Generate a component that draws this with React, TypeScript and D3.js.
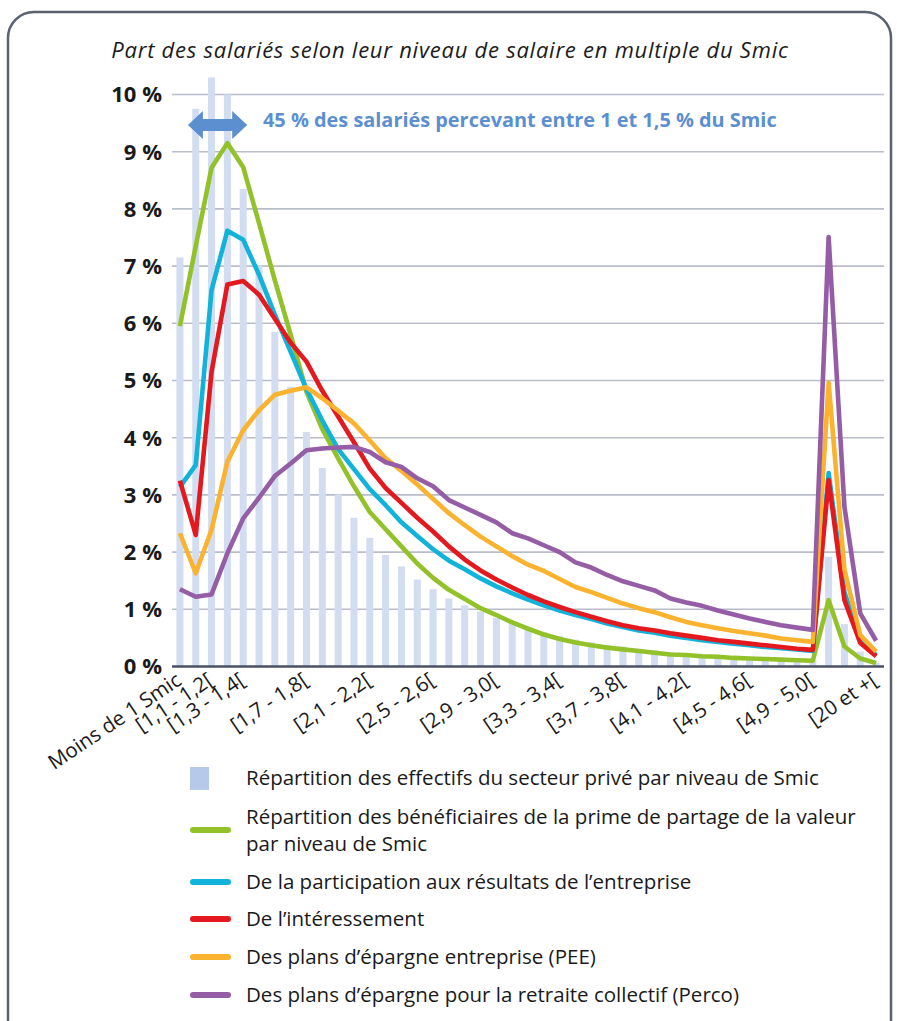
import React from "react";
import * as d3 from "d3";

const categories = [
  "Moins de 1 Smic", "[1,0 - 1,1[", "[1,1 - 1,2[", "[1,2 - 1,3[", "[1,3 - 1,4[",
  "[1,4 - 1,5[", "[1,5 - 1,6[", "[1,6 - 1,7[", "[1,7 - 1,8[", "[1,8 - 1,9[",
  "[1,9 - 2,0[", "[2,0 - 2,1[", "[2,1 - 2,2[", "[2,2 - 2,3[", "[2,3 - 2,4[",
  "[2,4 - 2,5[", "[2,5 - 2,6[", "[2,6 - 2,7[", "[2,7 - 2,8[", "[2,8 - 2,9[",
  "[2,9 - 3,0[", "[3,0 - 3,1[", "[3,1 - 3,2[", "[3,2 - 3,3[", "[3,3 - 3,4[",
  "[3,4 - 3,5[", "[3,5 - 3,6[", "[3,6 - 3,7[", "[3,7 - 3,8[", "[3,8 - 3,9[",
  "[3,9 - 4,0[", "[4,0 - 4,1[", "[4,1 - 4,2[", "[4,2 - 4,3[", "[4,3 - 4,4[",
  "[4,4 - 4,5[", "[4,5 - 4,6[", "[4,6 - 4,7[", "[4,7 - 4,8[", "[4,8 - 4,9[",
  "[4,9 - 5,0[", "[5 - 10[", "[10 - 15[", "[15 - 20[", "[20 et +["
];

const shownLabels = [
  "Moins de 1 Smic", "[1,1 - 1,2[", "[1,3 - 1,4[", "[1,7 - 1,8[", "[2,1 - 2,2[",
  "[2,5 - 2,6[", "[2,9 - 3,0[", "[3,3 - 3,4[", "[3,7 - 3,8[", "[4,1 - 4,2[",
  "[4,5 - 4,6[", "[4,9 - 5,0[", "[20 et +["
];

const yTicks = [0, 1, 2, 3, 4, 5, 6, 7, 8, 9, 10];

const effectifs = [
  7.15, 9.75, 10.3, 10.0, 8.35, 7.0, 5.85, 4.89, 4.1, 3.47,
  3.01, 2.6, 2.25, 1.95, 1.75, 1.52, 1.35, 1.19, 1.07, 0.96,
  0.85, 0.76, 0.68, 0.6, 0.53, 0.47, 0.42, 0.38, 0.35, 0.31,
  0.28, 0.25, 0.22, 0.2, 0.18, 0.17, 0.15, 0.14, 0.13, 0.12,
  0.11, 1.92, 0.74, 0.26, 0.06
];

const primePartage = [
  5.95, 7.35, 8.72, 9.15, 8.73, 7.75, 6.75, 5.8, 4.8, 4.15,
  3.64, 3.15, 2.7, 2.4, 2.1, 1.8, 1.55, 1.34, 1.18, 1.02,
  0.9, 0.77, 0.66, 0.56, 0.48, 0.42, 0.37, 0.33, 0.3, 0.27,
  0.24, 0.21, 0.2, 0.18, 0.17, 0.15, 0.14, 0.13, 0.12, 0.11,
  0.1, 1.16, 0.35, 0.14, 0.06
];

const participation = [
  3.14, 3.52, 6.58, 7.62, 7.46, 6.85, 6.15, 5.5, 4.85, 4.3,
  3.8, 3.45, 3.1, 2.82, 2.52, 2.28, 2.05, 1.85, 1.7, 1.54,
  1.4, 1.28, 1.17, 1.07, 0.98, 0.9, 0.83, 0.75, 0.69, 0.63,
  0.59, 0.54, 0.5, 0.46, 0.43, 0.4, 0.37, 0.34, 0.32, 0.3,
  0.27, 3.38, 1.3, 0.45, 0.2
];

const interessement = [
  3.25, 2.3, 5.15, 6.68, 6.74, 6.5, 6.08, 5.66, 5.33, 4.82,
  4.37, 3.92, 3.46, 3.12, 2.86, 2.6, 2.36, 2.1, 1.87, 1.68,
  1.52, 1.38, 1.25, 1.14, 1.04, 0.95, 0.87, 0.79, 0.72, 0.67,
  0.63, 0.58, 0.54, 0.5, 0.46, 0.43, 0.4, 0.37, 0.34, 0.31,
  0.29, 3.26, 1.16, 0.41, 0.18
];

const pee = [
  2.33, 1.63, 2.39, 3.58, 4.13, 4.48, 4.75, 4.82, 4.88, 4.69,
  4.47, 4.25, 3.95, 3.64, 3.42, 3.18, 2.93, 2.68, 2.47, 2.27,
  2.1, 1.93, 1.78, 1.67, 1.53, 1.39, 1.3, 1.2, 1.1, 1.02,
  0.95, 0.86, 0.78, 0.72, 0.67, 0.62, 0.58, 0.54, 0.49, 0.46,
  0.43, 4.96, 1.69, 0.55, 0.26
];

const perco = [
  1.35, 1.22, 1.26, 1.98, 2.59, 2.95, 3.33, 3.55, 3.78, 3.81,
  3.83, 3.84, 3.75, 3.57, 3.49, 3.29, 3.15, 2.91, 2.78, 2.65,
  2.52, 2.33, 2.24, 2.12, 2.0, 1.82, 1.73, 1.6, 1.49, 1.41,
  1.33, 1.19, 1.12, 1.06, 0.98, 0.91, 0.84, 0.78, 0.72, 0.68,
  0.64, 7.51, 2.79, 0.93, 0.45
];

const barLabel = "Répartition des effectifs du secteur privé par niveau de Smic";
const lineSeries = [
  { name: ["Répartition des bénéficiaires de la prime de partage de la valeur", "par niveau de Smic"], values: primePartage, color: "#93c12a" },
  { name: ["De la participation aux résultats de l’entreprise"], values: participation, color: "#12b3da" },
  { name: ["De l’intéressement"], values: interessement, color: "#e3191f" },
  { name: ["Des plans d’épargne entreprise (PEE)"], values: pee, color: "#fbb22f" },
  { name: ["Des plans d’épargne pour la retraite collectif (Perco)"], values: perco, color: "#955da5" },
];

const title = "Part des salariés selon leur niveau de salaire en multiple du Smic";
const annotation = "45 % des salariés percevant entre 1 et 1,5 % du Smic";

const FONT = "'Open Sans', 'Noto Sans', sans-serif";

export default function App() {
  const W = 897, H = 1021;
  const left = 172, right = 884, top = 94.5, bottom = 666.5;

  const x = d3.scaleBand<string>().domain(categories).range([left, right]).paddingInner(0).paddingOuter(0);
  const y = d3.scaleLinear().domain([0, 10]).range([bottom, top]);
  const bw = 7;
  const cx = (i: number) => (x(categories[i]) as number) + x.bandwidth() / 2;

  const line = d3.line<number>().x((_, i) => cx(i)).y((d) => y(d)).curve(d3.curveLinear);

  const arrowY = 125;
  const ax0 = cx(0) + 8, ax1 = cx(4) + 4;
  const head = 15, hh = 14, sh = 6;
  const arrowPts = [
    [ax0, arrowY], [ax0 + head, arrowY - hh], [ax0 + head, arrowY - sh], [ax1 - head, arrowY - sh],
    [ax1 - head, arrowY - hh], [ax1, arrowY], [ax1 - head, arrowY + hh], [ax1 - head, arrowY + sh],
    [ax0 + head, arrowY + sh], [ax0 + head, arrowY + hh]
  ].map((p) => p.join(",")).join(" ");

  const legendRows = [816.5, 882, 919, 957, 995];

  return (
    <svg width={W} height={H} style={{ display: "block", position: "absolute", left: 0, top: 0 }} fontFamily={FONT}>
      <rect x={0} y={0} width={W} height={H} fill="#ffffff" />
      <rect x={8} y={12} width={883} height={1100} rx={26} ry={26} fill="none" stroke="#5a6270" strokeWidth={2.5} />

      <text x={450} y={58} textAnchor="middle" fontSize={22} fontStyle="italic" fill="#1c1c1c" letterSpacing={0.75}>{title}</text>

      {/* grid */}
      {yTicks.filter((t) => t > 0).map((t) => (
        <line key={t} x1={left} x2={right} y1={y(t)} y2={y(t)} stroke="#b9bdc9" strokeWidth={1.6} />
      ))}
      {yTicks.map((t) => (
        <text key={"l" + t} x={162} y={y(t)} dy="0.36em" textAnchor="end" fontSize={22} fontWeight={700} fill="#1a1a1a">
          {t} %
        </text>
      ))}

      {/* bars */}
      {effectifs.map((v, i) => (
        <rect key={i} x={cx(i) - bw / 2} y={y(v)} width={bw} height={y(0) - y(v)} fill="#d2ddf1" />
      ))}

      {/* lines */}
      {lineSeries.map((s) => (
        <path key={s.color} d={line(s.values) as string} fill="none" stroke={s.color} strokeWidth={4.6} strokeLinejoin="round" />
      ))}

      {/* axis */}
      <line x1={left} x2={right} y1={y(0)} y2={y(0)} stroke="#4a5262" strokeWidth={2.5} />

      {categories.map((c, i) =>
        shownLabels.includes(c) ? (
          <text key={c} transform={`translate(${cx(i) + 3},${y(0) + 17}) rotate(-34)`} textAnchor="end" fontSize={20.5} fill="#1a1a1a">
            {c}
          </text>
        ) : null
      )}

      {/* annotation */}
      <polygon points={arrowPts} fill="#5b8fcf" />
      <text x={263} y={120} dy="0.36em" fontSize={19.9} fontWeight={700} fill="#5b8fd0">{annotation}</text>

      {/* legend */}
      <rect x={190} y={767} width={19} height={23} fill="#b6c9ea" />
      <text x={246} y={778} dy="0.36em" fontSize={20.5} fill="#1a1a1a">{barLabel}</text>
      {lineSeries.map((s, k) => (
        <g key={"lg" + k}>
          <line x1={193} x2={228} y1={k === 0 ? 830 : legendRows[k]} y2={k === 0 ? 830 : legendRows[k]} stroke={s.color} strokeWidth={6} strokeLinecap="round" />
          {s.name.map((n, j) => (
            <text key={j} x={246} y={legendRows[k] + j * 27} dy="0.36em" fontSize={20.5} fill="#1a1a1a">{n}</text>
          ))}
        </g>
      ))}
    </svg>
  );
}
